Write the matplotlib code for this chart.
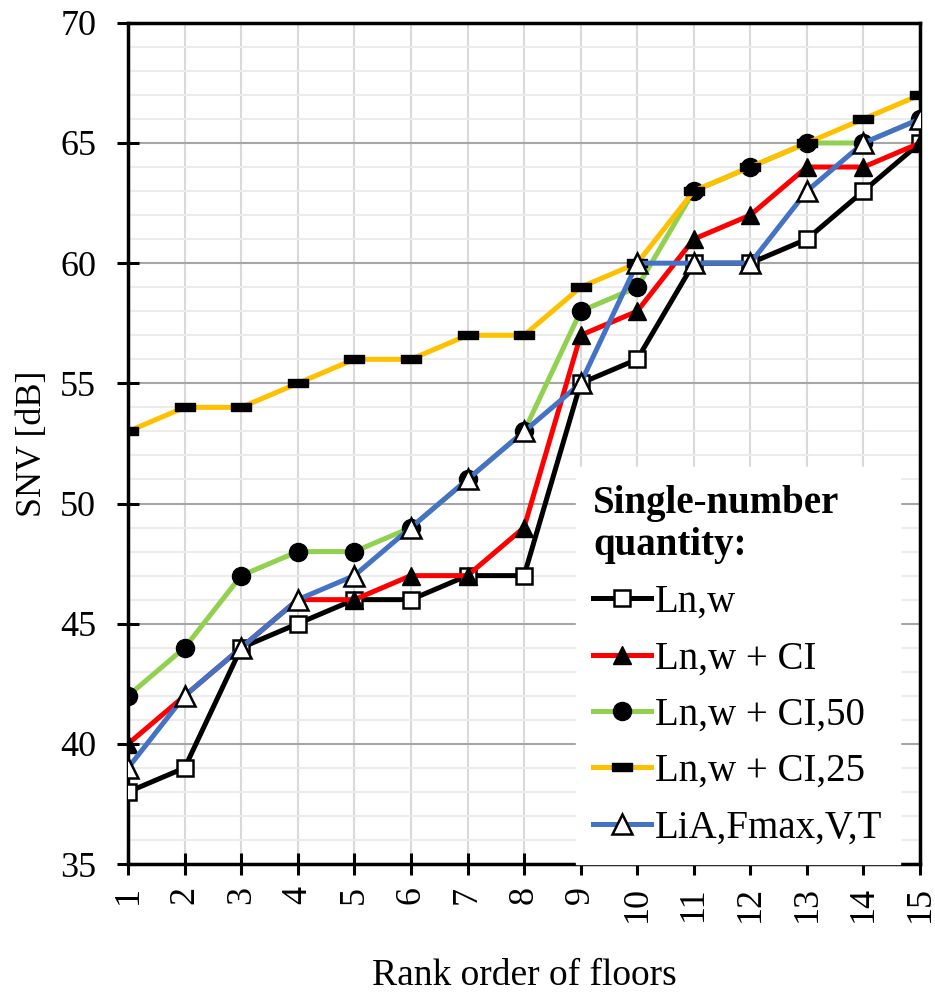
import matplotlib
matplotlib.use("Agg")
import matplotlib.pyplot as plt
import numpy as np

plt.rcParams['font.family'] = ['Liberation Serif', 'DejaVu Serif']

ranks = list(range(1, 16))
ln_w = [38, 39, 44, 45, 46, 46, 47, 47, 55, 56, 60, 60, 61, 63, 65]
ln_w_ci = [40, 42, 44, 46, 46, 47, 47, 49, 57, 58, 61, 62, 64, 64, 65]
ln_w_ci50 = [42, 44, 47, 48, 48, 49, 51, 53, 58, 59, 63, 64, 65, 65, 66]
ln_w_ci25 = [53, 54, 54, 55, 56, 56, 57, 57, 59, 60, 63, 64, 65, 66, 67]
lia = [39, 42, 44, 46, 47, 49, 51, 53, 55, 60, 60, 60, 63, 65, 66]
labels = ["Ln,w", "Ln,w + CI", "Ln,w + CI,50", "Ln,w + CI,25", "LiA,Fmax,V,T"]

FS = 26

fig = plt.figure(figsize=(9.35, 9.92), dpi=100)
ax = fig.add_axes([0.137, 0.129, 0.847, 0.848])

dash = [(-1, -0.4), (1, -0.4), (1, 0.4), (-1, 0.4), (-1, -0.4)]
lw = 3.6
ax.plot(ranks, ln_w, color='black', lw=lw, marker='s', ms=11, mfc='white', mec='black', mew=1.8, label=labels[0], zorder=3)
ax.plot(ranks, ln_w_ci, color='#ff0000', lw=lw, marker='^', ms=13, mfc='black', mec='black', mew=1, label=labels[1], zorder=3)
ax.plot(ranks, ln_w_ci50, color='#92d050', lw=lw, marker='o', ms=13, mfc='black', mec='black', mew=1, label=labels[2], zorder=3)
ax.plot(ranks, ln_w_ci25, color='#ffc000', lw=lw, marker=dash, ms=14, mfc='black', mec='black', mew=1, label=labels[3], zorder=3)
ax.plot(ranks, lia, color='#4472c4', lw=lw, marker='^', ms=15, mfc='white', mec='black', mew=1.8, label=labels[4], zorder=3)

ax.set_xlim(1, 15)
ax.set_ylim(35, 70)
ax.set_xticks(ranks)
ax.set_xticklabels([str(r) for r in ranks], rotation=90, fontsize=FS)
ax.set_yticks(np.arange(35, 71, 5))
ax.set_yticks(np.arange(35, 71, 1), minor=True)
ax.tick_params(axis='y', which='major', labelsize=FS, direction='inout', length=16, width=2.2, pad=15)
ax.tick_params(axis='y', which='minor', length=0)
ax.tick_params(axis='x', which='major', direction='inout', length=16, width=2.2, pad=8)

ax.grid(True, which='major', axis='y', color='#a6a6a6', lw=1.5, zorder=0)
ax.grid(True, which='minor', axis='y', color='#ececec', lw=1.5, zorder=0)
ax.grid(True, which='major', axis='x', color='#d9d9d9', lw=1.5, zorder=0)

for s in ['left', 'bottom', 'right', 'top']:
    ax.spines[s].set_color('black')
    ax.spines[s].set_linewidth(2.5)

ax.set_ylabel("SNV [dB]", fontsize=26, labelpad=8)
ax.set_xlabel("Rank order of floors", fontsize=27, labelpad=26)

leg = ax.legend(loc='lower right', bbox_to_anchor=(0.975, 0.0), fontsize=28,
                title="Single-number\nquantity:", title_fontproperties={'weight': 'bold', 'size': 28},
                frameon=True, fancybox=False, framealpha=1, edgecolor='white',
                handlelength=1.5, handletextpad=0.1, labelspacing=0.5, borderpad=0.45,
                borderaxespad=0.0)
leg._legend_box.align = "left"
leg.set_zorder(5)

fig.savefig("out.png", dpi=100)
